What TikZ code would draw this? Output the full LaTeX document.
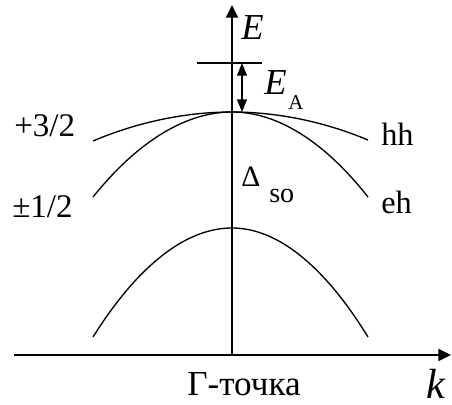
\documentclass[tikz,border=0pt]{standalone}
\usepackage{fontspec}
\setmainfont{Liberation Serif}
\usetikzlibrary{arrows.meta, positioning}

\begin{document}
\begin{tikzpicture}[
    x=0.025cm, y=-0.025cm,
    axis/.style={line width=1.4pt, -{Triangle[length=9pt, width=8.5pt]}},
    band/.style={line width=0.95pt},
    gap/.style={line width=1.1pt, {Triangle[length=9pt, width=7pt]}-{Triangle[length=9pt, width=7pt]}},
    lbl/.style={inner sep=0pt, anchor=base west},
]
\useasboundingbox (0,0) rectangle (452,405);

% axes
\coordinate (origin) at (232,355);
\coordinate (etop) at (232,5);
\coordinate (kleft) at (14,355);
\coordinate (kright) at (451,355);
\draw[axis] (origin) -- (etop);
\draw[axis] (kleft) -- (kright);

% bands
\coordinate (top) at (232,112);
\draw[band] (93,141) parabola bend (top) (368,140);
\draw[band] (93,197) parabola bend (top) (368,197);
\coordinate (sotop) at (232,228);
\draw[band] (93,337) parabola bend (sotop) (368,337);

% acceptor level
\coordinate (accl) at (197,63);
\coordinate (accr) at (262,63);
\draw[line width=1.1pt] (accl) -- (accr);
\coordinate (acc) at (242,63);
\coordinate (vb) at (242,112);
\draw[gap] (acc) -- (vb);

% labels
\node[lbl, font=\fontsize{26}{30}\selectfont\itshape] (elabel) at (241,40) {E};
\node[lbl, font=\fontsize{26}{30}\selectfont\itshape] (ea) at (264,95) {E};
\node[lbl, font=\fontsize{15}{18}\selectfont] (easub) at (288,110) {A};
\node[lbl, font=\fontsize{23.5}{27}\selectfont] (hhspin) at (14,137) {+3/2};
\node[lbl, font=\fontsize{23.5}{27}\selectfont] (ehspin) at (12,218) {±1/2};
\node[lbl, font=\fontsize{23}{27}\selectfont] (hh) at (381,146) {hh};
\node[lbl, font=\fontsize{23}{27}\selectfont] (eh) at (381,214) {eh};
\node[lbl, font=\fontsize{21}{25}\selectfont] (delta) at (241,187) {Δ};
\node[lbl, font=\fontsize{20}{24}\selectfont] (so) at (269,203) {so};
\node[lbl, font=\fontsize{25}{29}\selectfont] (gamma) at (187,395) {Г-точка};
\node[lbl, font=\fontsize{30}{34}\selectfont\itshape] (klabel) at (426,398) {k};

\end{tikzpicture}
\end{document}
